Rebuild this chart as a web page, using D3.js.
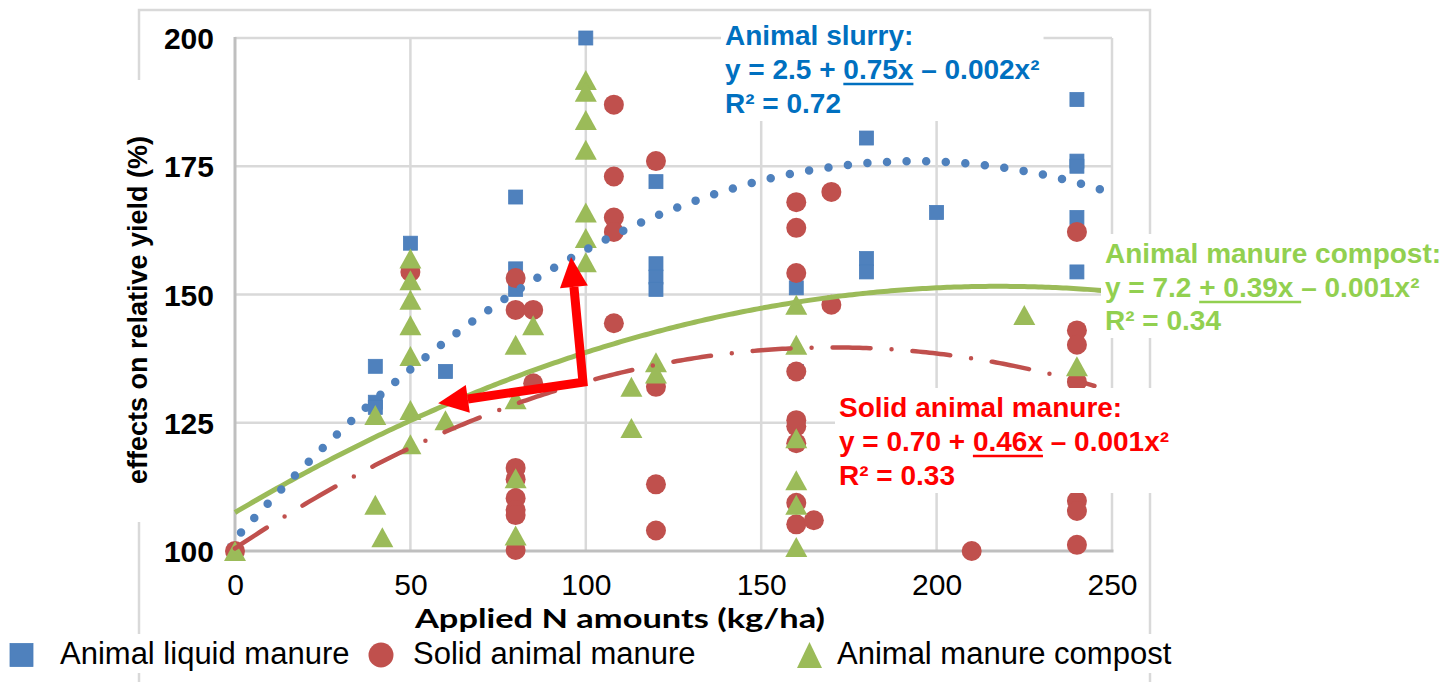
<!DOCTYPE html>
<html><head><meta charset="utf-8">
<script src="https://cdn.jsdelivr.net/npm/d3@7"></script>
<style>body{margin:0;background:#fff} svg{display:block} text{white-space:pre}</style>
</head><body>
<svg id="c" width="1456" height="682"></svg>
<script>
// ---------- data ----------
const liquidX = [0, 40, 40, 40, 50, 60, 80, 80, 80, 100, 120, 120, 120, 120, 160, 160, 180, 180, 180, 200, 240, 240, 240, 240, 240];
const liquidY = [100, 136, 129, 128, 160, 135, 169, 155, 151, 200, 172, 156, 153.4, 151, 151.3, 135, 180.5, 157, 154.4, 166, 188, 176, 175, 165, 154.4];

const solidX = [0, 50, 80, 80, 85, 85, 80, 80, 80, 80, 80, 80, 108, 108, 108, 108, 108, 120, 120, 120, 120, 160, 160, 160, 160, 160, 160, 160, 160, 160, 165, 170, 170, 210, 240, 240, 240, 240, 240, 240, 240];
const solidY = [100, 154.4, 153.2, 147, 147, 132.7, 116.2, 114, 110.3, 108, 107, 100.2, 187, 173, 165, 162.2, 144.4, 176, 132, 113, 104, 168, 163, 154.2, 135, 125.5, 124.3, 121, 109.4, 105.2, 106, 170, 148, 100, 162.2, 143, 140.2, 133, 109.8, 107.8, 101.2];

const compostX = [0, 40, 40, 42, 50, 50, 50, 50, 50, 50, 50, 60, 80, 80, 80, 80, 85, 100, 100, 100, 100, 100, 100, 100, 113, 113, 120, 120, 160, 160, 160, 160, 160, 160, 225, 240];
const compostY = [100, 126.5, 109, 102.7, 157, 152.8, 149, 144, 138, 127.5, 120.8, 125.5, 140.2, 129.6, 114.2, 103, 144, 191.8, 189.5, 184, 178.2, 166, 161, 156.3, 132, 124, 136.8, 134.6, 148, 140.2, 122, 113.8, 109, 100.8, 146, 136];

const xTicks = [0, 50, 100, 150, 200, 250];
const yTicks = [100, 125, 150, 175, 200];

// fitted quadratic trendlines as drawn: [intercept, linear, quadratic]
const slurryCoef = [102.3, 0.76, -0.00196];
const solidCoef = [100.5, 0.46, -0.00135];
const compostCoef = [107.5, 0.405, -0.00093];
const slurryRange = [0, 250];
const solidRange = [0, 245];
const compostRange = [0, 250];

const legendLabels = ["Animal liquid manure", "Solid animal manure", "Animal manure compost"];
const xTitle = "Applied N amounts (kg/ha)";
const yTitle = "effects on relative yield (%)";

const slurryLines = [[{t:"Animal slurry:"}], [{t:"y = 2.5 + "},{t:"0.75x",u:1},{t:" – 0.002x²"}], [{t:"R² = 0.72"}]];
const solidLines = [[{t:"Solid animal manure:"}], [{t:"y = 0.70 + "},{t:"0.46x",u:1},{t:" – 0.001x²"}], [{t:"R² = 0.33"}]];
const compostLines = [[{t:"Animal manure compost:"}], [{t:"y = 7.2 "},{t:"+ 0.39x ",u:1},{t:"– 0.001x²"}], [{t:"R² = 0.34"}]];

// arrow annotation in data units
const arrowCorner = [99.2, 132.9], arrowUp = [95.8, 157.3], arrowLeft = [57.9, 128.8];

// ---------- drawing ----------
const svg = d3.select("#c");
const x = d3.scaleLinear().domain([0, 250]).range([235, 1112]);
const y = d3.scaleLinear().domain([100, 200]).range([551, 38]);

const C = {blue:"#4F81BD", red:"#C0504D", green:"#9BBB59", grid:"#D9D9D9", axis:"#BFBFBF"};
const F = "'Liberation Sans', Arial, sans-serif";

// outer chart frame
svg.append("rect").attr("x",139).attr("y",10).attr("width",1011).attr("height",720)
  .attr("fill","none").attr("stroke",C.grid).attr("stroke-width",2.5);

// grid
const g = svg.append("g");
g.selectAll(".vg").data(xTicks.filter(d=>d>0)).join("line")
  .attr("x1",d=>x(d)).attr("x2",d=>x(d)).attr("y1",y(200)).attr("y2",y(100))
  .attr("stroke",C.grid).attr("stroke-width",2.5);
g.selectAll(".hg").data(yTicks.filter(d=>d>100)).join("line")
  .attr("x1",x(0)).attr("x2",x(250)).attr("y1",d=>y(d)).attr("y2",d=>y(d))
  .attr("stroke",C.grid).attr("stroke-width",2.5);
// axis lines
g.append("line").attr("x1",x(0)).attr("x2",x(0)).attr("y1",y(200)-1).attr("y2",y(100)+1.5)
  .attr("stroke",C.axis).attr("stroke-width",3);
g.append("line").attr("x1",x(0)-1.5).attr("x2",x(250)+1.5).attr("y1",y(100)).attr("y2",y(100))
  .attr("stroke",C.axis).attr("stroke-width",3);

// axes labels
const gx = svg.append("g").attr("transform",`translate(0,${y(100)})`)
  .call(d3.axisBottom(x).tickValues(xTicks).tickSize(0).tickPadding(0));
gx.select(".domain").remove();
gx.selectAll("text").attr("y",44).attr("dy",0).attr("fill","#000")
  .style("font-family",F).style("font-size","30px");

const gy = svg.append("g").attr("transform",`translate(${x(0)},0)`)
  .call(d3.axisLeft(y).tickValues(yTicks).tickSize(0).tickPadding(0));
gy.select(".domain").remove();
gy.selectAll("text").attr("x",-21).attr("dy","0.35em").attr("fill","#000")
  .style("font-family",F).style("font-size","30px").style("font-weight","bold");

// markers
const liquid = liquidX.map((d,i)=>[d, liquidY[i]]);
const solid = solidX.map((d,i)=>[d, solidY[i]]);
const compost = compostX.map((d,i)=>[d, compostY[i]]);

const mk = svg.append("g");
mk.selectAll(".sq").data(liquid).join("rect")
  .attr("x",d=>x(d[0])-7).attr("y",d=>y(d[1])-7).attr("width",14).attr("height",14)
  .attr("fill",C.blue).attr("stroke","#4A7EBB").attr("stroke-width",0.8);
mk.selectAll(".ci").data(solid).join("circle")
  .attr("cx",d=>x(d[0])).attr("cy",d=>y(d[1])).attr("r",10).attr("fill",C.red);
const tri = (w,h)=>`M0,${-h/2}L${w/2},${h/2}L${-w/2},${h/2}Z`;
mk.selectAll(".tr").data(compost).join("path")
  .attr("d",tri(22,20)).attr("transform",d=>`translate(${x(d[0])},${y(d[1])})`)
  .attr("fill",C.green);

// trendlines
function curve(coef, range){
  const pts=[]; for(let v=range[0]; v<=range[1]+1e-9; v+=1) pts.push([v, coef[0]+coef[1]*v+coef[2]*v*v]);
  return d3.line().x(d=>x(d[0])).y(d=>y(d[1]))(pts);
}
svg.append("path").attr("d",curve(solidCoef,solidRange)).attr("fill","none")
  .attr("stroke",C.red).attr("stroke-width",4.5).attr("stroke-linecap","round")
  .attr("stroke-dasharray","38 21 0 21");
svg.append("path").attr("d",curve(compostCoef,compostRange)).attr("fill","none")
  .attr("stroke",C.green).attr("stroke-width",5);
svg.append("path").attr("d",curve(slurryCoef,slurryRange)).attr("fill","none")
  .attr("stroke",C.blue).attr("stroke-width",8.5).attr("stroke-linecap","round")
  .attr("stroke-dasharray","0 19.6").attr("stroke-dashoffset",-9);

// red arrow
(function(){
  const c=[x(arrowCorner[0]),y(arrowCorner[1])], u=[x(arrowUp[0]),y(arrowUp[1])], l=[x(arrowLeft[0]),y(arrowLeft[1])];
  const head=(tip, from, len, w)=>{
    const dx=tip[0]-from[0], dy=tip[1]-from[1], L=Math.hypot(dx,dy), ux=dx/L, uy=dy/L;
    const b=[tip[0]-ux*len, tip[1]-uy*len];
    return {base:b, d:`M${tip}L${b[0]-uy*w/2},${b[1]+ux*w/2}L${b[0]+uy*w/2},${b[1]-ux*w/2}Z`};
  };
  const hu=head(u,c,30,28), hl=head(l,c,30,28);
  svg.append("path").attr("d",`M${hl.base}L${c}L${hu.base}`)
    .attr("fill","none").attr("stroke","#FF0000").attr("stroke-width",9).attr("stroke-linejoin","miter");
  svg.append("path").attr("d",hu.d).attr("fill","#FF0000");
  svg.append("path").attr("d",hl.d).attr("fill","#FF0000");
})();

// annotations
function annot(x0, baselines, lines, color){
  const grp = svg.append("g");
  const bg = grp.append("rect").attr("fill","#fff");
  const texts = lines.map((segs,i)=>{
    const t = grp.append("text").attr("x",x0).attr("y",baselines[i]).attr("fill",color)
      .style("font-family",F).style("font-size","28px").style("font-weight","bold");
    segs.forEach(s=>t.append("tspan").text(s.t));
    return [t,segs];
  });
  const bb = grp.node().getBBox();
  bg.attr("x",bb.x-4).attr("y",bb.y-4).attr("width",bb.width+8).attr("height",bb.height+6);
  texts.forEach(([t,segs],i)=>{
    let idx=0;
    segs.forEach(s=>{
      if(s.u){
        const n=t.node(); const sx=n.getStartPositionOfChar(idx).x; const w=n.getSubStringLength(idx,s.t.length);
        grp.append("line").attr("x1",sx).attr("x2",sx+w).attr("y1",baselines[i]+5).attr("y2",baselines[i]+5)
          .attr("stroke",color).attr("stroke-width",2.5);
      }
      idx+=s.t.length;
    });
  });
}
annot(725, [45,79,113], slurryLines, "#0070C0");
annot(839, [417,451,485], solidLines, "#FF0000");
annot(1105, [263,297,330], compostLines, "#92D050");

// y title
svg.append("rect").attr("x",120).attr("y",80).attr("width",38).attr("height",442).attr("fill","#fff");
svg.append("text").attr("transform","translate(147,310) rotate(-90)").attr("text-anchor","middle")
  .style("font-family",F).style("font-size","27px").style("font-weight","bold").text(yTitle);

// x title
svg.append("text").attr("x",620).attr("y",628).attr("text-anchor","middle")
  .attr("textLength",410).attr("lengthAdjust","spacingAndGlyphs")
  .style("font-family","Lato, 'Open Sans', sans-serif").style("font-size","26px").style("font-weight","bold").text(xTitle);

// legend
svg.append("rect").attr("x",0).attr("y",634).attr("width",1200).attr("height",39).attr("fill","#fff");
const lg = svg.append("g");
const lgX = [21.5, 381, 809.5], lgTX = [60, 413, 837];
lg.append("rect").attr("x",lgX[0]-11.5).attr("y",655-11.5).attr("width",23).attr("height",23).attr("fill",C.blue)
  .attr("stroke","#4A7EBB").attr("stroke-width",0.8);
lg.append("circle").attr("cx",lgX[1]).attr("cy",655).attr("r",12.5).attr("fill",C.red);
lg.append("path").attr("d",tri(25,26)).attr("transform",`translate(${lgX[2]},655)`).attr("fill",C.green);
lg.selectAll("text.l").data(legendLabels).join("text").attr("class","l")
  .attr("x",(d,i)=>lgTX[i]).attr("y",664).text(d=>d)
  .style("font-family",F).style("font-size","31px");
</script>
</body></html>
